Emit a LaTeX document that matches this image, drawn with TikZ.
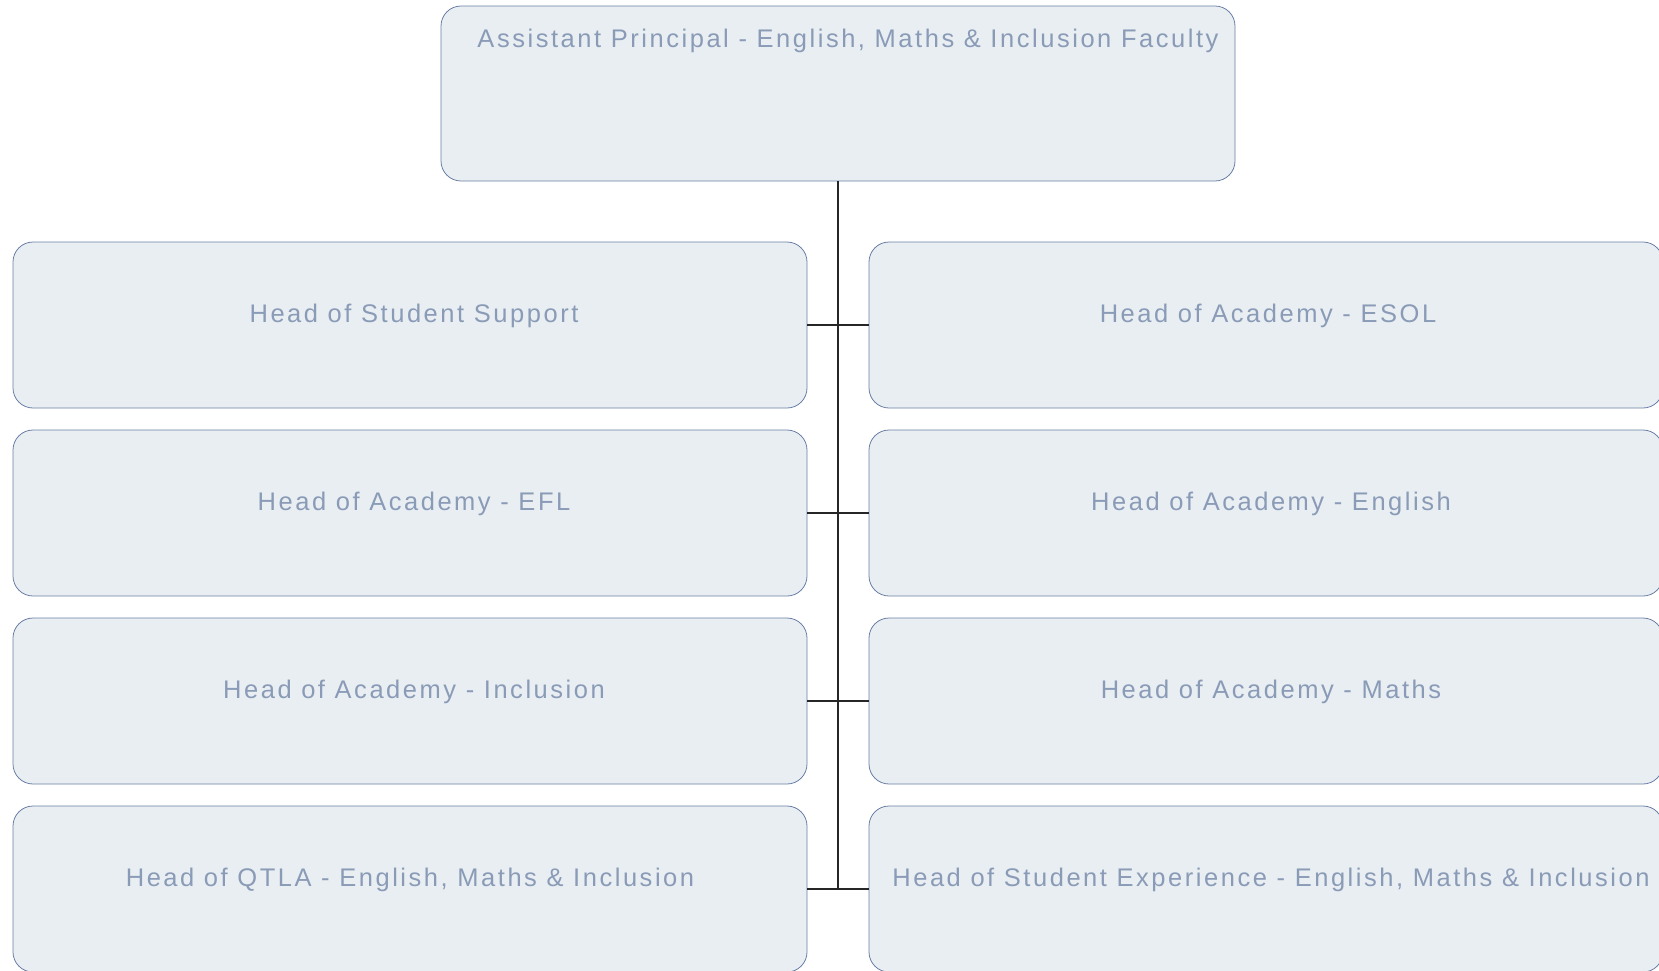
\documentclass[tikz,border=0pt]{standalone}
\usepackage{fontspec}
\setmainfont[LetterSpace=10]{Liberation Sans}
\usepackage{tikz}
\usetikzlibrary{positioning}
\usepackage{xcolor}

\definecolor{boxfill}{RGB}{233,238,242}
\definecolor{boxline}{RGB}{105,125,165}
\definecolor{boxtext}{RGB}{138,155,183}
\newdimen\pxu
\pxu=0.02cm

\begin{document}
\begin{tikzpicture}[x=\pxu,y=-\pxu,
  orgbox/.style={draw=boxline, fill=boxfill, line width=0.45pt, rounded corners=20\pxu,
    minimum width=794\pxu, minimum height=166\pxu, inner sep=0pt},
  orglabel/.style={text=boxtext, font=\fontsize{14.5}{17}\selectfont, inner sep=0pt},
  link/.style={line width=0.6pt, color=black!85}]
\useasboundingbox (0,0) rectangle (1659,970);
\node[orgbox, minimum height=175\pxu] (ap) at (838,93.5) {};
\node[orglabel] (apT) at (848,41) {Assistant Principal - English, Maths \& Inclusion Faculty};

\node[orgbox] (ss) at (410,325) {};
\node[orgbox] (efl) at (410,513) {};
\node[orgbox] (incl) at (410,701) {};
\node[orgbox] (qtla) at (410,889) {};
\node[orgbox] (esol) at (1266,325) {};
\node[orgbox] (eng) at (1266,513) {};
\node[orgbox] (maths) at (1266,701) {};
\node[orgbox] (sx) at (1266,889) {};

\node[orglabel] (ssT) at (414,316) {Head of Student Support};
\node[orglabel] (eflT) at (414,504) {Head of Academy - EFL};
\node[orglabel] (inclT) at (414,692) {Head of Academy - Inclusion};
\node[orglabel] (qtlaT) at (410,880) {Head of QTLA - English, Maths \& Inclusion};
\node[orglabel] (esolT) at (1268,316) {Head of Academy - ESOL};
\node[orglabel] (engT) at (1271,504) {Head of Academy - English};
\node[orglabel] (mathsT) at (1271,692) {Head of Academy - Maths};
\node[orglabel] (sxT) at (1271,880) {Head of Student Experience - English, Maths \& Inclusion};

\coordinate (trunk) at (838,889);
\draw[link] (ap.south) -- (trunk);
\draw[link] (ss.east) -- (esol.west);
\draw[link] (efl.east) -- (eng.west);
\draw[link] (incl.east) -- (maths.west);
\draw[link] (qtla.east) -- (sx.west);
\end{tikzpicture}
\end{document}
